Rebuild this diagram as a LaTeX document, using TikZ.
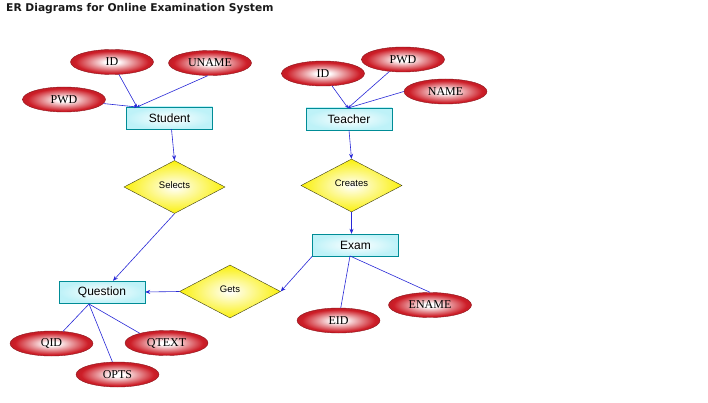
\documentclass[tikz,border=0pt]{standalone}
\usepackage{fontspec}
\setmainfont{Liberation Serif}
\setsansfont{Liberation Sans}
\newfontfamily\titlefont{DejaVu Sans}
\usepackage{xcolor}
\definecolor{erblue}{RGB}{40,40,215}
\definecolor{erred}{RGB}{205,30,40}
\definecolor{erteal}{RGB}{0,140,150}
\definecolor{ercyan}{RGB}{190,242,248}
\definecolor{eryellow}{RGB}{250,240,10}
\definecolor{erolive}{RGB}{60,60,20}
\usetikzlibrary{arrows.meta, shapes.geometric}

\pgfdeclareradialshading{attrshade}{\pgfpoint{0bp}{0bp}}{%
  color(0bp)=(white); color(4bp)=(white); color(12bp)=(erred!45);
  color(22bp)=(erred); color(30bp)=(erred!85!black); color(50bp)=(erred!75!black)}

\tikzset{
  attr/.style={ellipse, draw=erred!70!black, shading=attrshade,
    minimum width=83pt, minimum height=25pt, inner sep=0pt,
    font=\fontsize{12}{14}\selectfont},
  entity/.style={rectangle, draw=erteal, shading=radial, inner color=white,
    outer color=ercyan, minimum width=86pt, minimum height=22pt, inner sep=0pt,
    font=\sffamily\fontsize{12}{14}\selectfont},
  relation/.style={diamond, draw=erolive, shading=radial, inner color=white,
    outer color=eryellow, minimum width=101pt, minimum height=53pt, inner sep=0pt,
    font=\sffamily\fontsize{9.5}{10}\selectfont},
  link/.style={erblue, line width=0.6pt, -{Stealth[length=5pt, width=4pt]}},
  attrlink/.style={erblue, line width=0.6pt, -{Stealth[length=3pt, width=3pt]}},
  plainlink/.style={erblue, line width=0.6pt},
}

\begin{document}
\begin{tikzpicture}[x=1pt, y=-1pt]
\useasboundingbox[fill=white] (0,0) rectangle (708,403);

% --- Title ---
\node[anchor=base west, inner sep=0pt, font=\titlefont\bfseries\fontsize{10.7}{12}\selectfont,
      text=black!90] (title) at (6,12) {ER Diagrams for Online Examination System};

% --- Student side ---
\node[entity] (student) at (169.5,118) {Student};
\node[attr] (stuid) at (112,62) {ID};
\node[attr] (stuname) at (210,63) {UNAME};
\node[attr] (stupwd) at (64,99.5) {PWD};
\coordinate (stuj) at (137,107);
\draw[attrlink] (stuid) -- (stuj);
\draw[attrlink] (stuname.260) -- (stuj);
\draw[attrlink] (stupwd) -- (stuj);

\node[relation] (selects) at (174.5,187) {\raisebox{4pt}{Selects}};
\draw[link] ([xshift=2pt]student.south) -- (selects.north);

% --- Teacher side ---
\node[entity] (teacher) at (349,119) {Teacher};
\node[attr] (teaid) at (323,73.5) {ID};
\node[attr] (teapwd) at (403,59.5) {PWD};
\node[attr] (teaname) at (445.5,91.5) {NAME};
\coordinate (teaj) at (348,108);
\draw[attrlink] (teaid) -- (teaj);
\draw[attrlink] (teapwd) -- (teaj);
\draw[attrlink] (teaname.west) -- (teaj);

\node[relation] (creates) at (351.5,185.5) {\raisebox{5pt}{Creates}};
\draw[link] (teacher.south) -- (creates.north);

% --- Exam ---
\node[entity] (exam) at (355.5,245) {Exam};
\draw[link] (creates.south) -- (creates.south |- exam.north);
\node[attr] (eid) at (338.5,320.5) {EID};
\node[attr] (ename) at (430,305) {ENAME};
\coordinate (examj) at (350,256);
\draw[plainlink] (examj) -- (eid);
\draw[plainlink] (examj) -- (ename.north);

% --- Question ---
\node[entity] (question) at (102,292) {Question};
\node[relation] (gets) at (230,291.5) {\raisebox{4pt}{Gets}};
\draw[link] (selects.south) -- ([xshift=11pt]question.north);
\draw[link] (exam.south west) -- (gets.east);
\draw[link] (gets.west) -- (question.east);

\node[attr] (qid) at (51.5,343.5) {QID};
\node[attr] (qtext) at (166.5,343) {QTEXT};
\node[attr] (opts) at (117.5,374.5) {OPTS};
\coordinate (quesj) at (89,304);
\draw[plainlink] (quesj) -- (qid);
\draw[plainlink] (quesj) -- (opts);
\draw[plainlink] (quesj) -- (qtext.160);

\end{tikzpicture}
\end{document}
